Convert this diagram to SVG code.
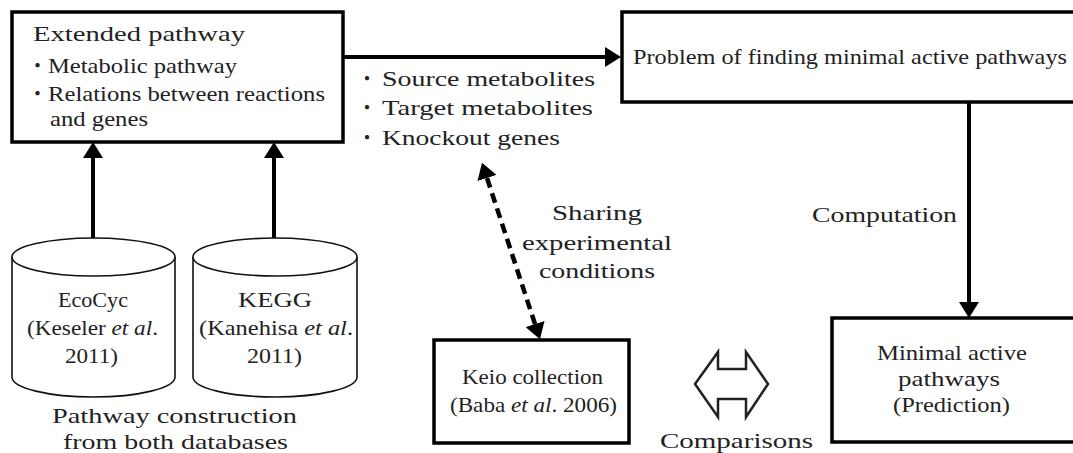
<svg xmlns="http://www.w3.org/2000/svg" width="1073" height="453" viewBox="0 0 1073 453">
<style>
.box{fill:#fff;stroke:#000;stroke-width:3.5}
.cyl{fill:#fff;stroke:#111;stroke-width:1.6}
.t{font-family:"Liberation Serif","Noto Sans CJK JP",serif;font-size:21px;fill:#222}
.b{font-family:"Noto Sans CJK JP",sans-serif;font-size:20px;fill:#222}
.c{text-anchor:middle}
.ln{stroke:#000;stroke-width:4;fill:none}
.dash{stroke:#000;stroke-width:4.5;fill:none;stroke-dasharray:10 6}
</style>
<defs>
<marker id="ah" viewBox="0 0 16 20" refX="0" refY="10" markerWidth="16" markerHeight="20" markerUnits="userSpaceOnUse" orient="auto-start-reverse">
<path d="M0,0 L16,10 L0,20 z" fill="#000"/>
</marker>
</defs>
<rect width="1073" height="453" fill="#fff"/>

<g id="connectors">
<line class="ln" x1="343" y1="57" x2="605" y2="57" marker-end="url(#ah)"/>
<line class="ln" x1="969" y1="102" x2="969" y2="302" marker-end="url(#ah)"/>
<line class="ln" x1="93" y1="253" x2="93" y2="158" marker-end="url(#ah)"/>
<line class="ln" x1="274" y1="253" x2="274" y2="158" marker-end="url(#ah)"/>
<line class="dash" x1="487" y1="178" x2="535" y2="324" marker-start="url(#ah)" marker-end="url(#ah)"/>
<polygon points="695,384 718,352 718,369 746,369 746,352 768,384 746,417 746,399 718,399 718,417" fill="#fff" stroke="#222" stroke-width="2.5" stroke-linejoin="miter"/>
</g>

<g id="extended">
<rect class="box" x="12" y="12" width="331" height="130"/>
<text class="t" x="33" y="41" textLength="212" lengthAdjust="spacingAndGlyphs">Extended pathway</text>
<text class="b" x="27.5" y="73">・</text>
<text class="t" x="48" y="73" textLength="189" lengthAdjust="spacingAndGlyphs">Metabolic pathway</text>
<text class="b" x="27.5" y="101">・</text>
<text class="t" x="48" y="101" textLength="277" lengthAdjust="spacingAndGlyphs">Relations between reactions</text>
<text class="t" x="50" y="126" textLength="98" lengthAdjust="spacingAndGlyphs">and genes</text>
</g>

<g id="conditions">
<text class="b" x="357" y="86">・</text>
<text class="t" x="382" y="86" textLength="213" lengthAdjust="spacingAndGlyphs">Source metabolites</text>
<text class="b" x="357" y="115">・</text>
<text class="t" x="382" y="115" textLength="211" lengthAdjust="spacingAndGlyphs">Target metabolites</text>
<text class="b" x="357" y="145">・</text>
<text class="t" x="382" y="145" textLength="178" lengthAdjust="spacingAndGlyphs">Knockout genes</text>
</g>

<g id="problem">
<rect class="box" x="622" y="12" width="470" height="90"/>
<text class="t" x="633" y="64" textLength="434" lengthAdjust="spacingAndGlyphs">Problem of finding minimal active pathways</text>
</g>

<g id="computation-label">
<text class="t" x="812" y="222" textLength="145" lengthAdjust="spacingAndGlyphs">Computation</text>
</g>

<g id="minimal">
<rect class="box" x="832" y="318" width="260" height="124"/>
<text class="t c" x="952" y="360" textLength="150" lengthAdjust="spacingAndGlyphs">Minimal active</text>
<text class="t c" x="949" y="386" textLength="102" lengthAdjust="spacingAndGlyphs">pathways</text>
<text class="t c" x="951.5" y="412" textLength="117" lengthAdjust="spacingAndGlyphs">(Prediction)</text>
</g>

<g id="ecocyc">
<path class="cyl" d="M12,257 L12,377 A81.5,20 0 0 0 175,377 L175,257"/>
<ellipse class="cyl" cx="93.5" cy="257" rx="81.5" ry="19"/>
<text class="t c" x="93" y="307" textLength="70" lengthAdjust="spacingAndGlyphs">EcoCyc</text>
<text class="t c" x="92.5" y="335" textLength="131" lengthAdjust="spacingAndGlyphs">(Keseler <tspan font-style="italic">et al</tspan>.</text>
<text class="t c" x="91.5" y="363" textLength="53" lengthAdjust="spacingAndGlyphs">2011)</text>
</g>

<g id="kegg">
<path class="cyl" d="M193,257 L193,377 A82,20 0 0 0 357,377 L357,257"/>
<ellipse class="cyl" cx="275" cy="257" rx="82" ry="19"/>
<text class="t c" x="275" y="307" textLength="74" lengthAdjust="spacingAndGlyphs">KEGG</text>
<text class="t c" x="276" y="335" textLength="154" lengthAdjust="spacingAndGlyphs">(Kanehisa <tspan font-style="italic">et al</tspan>.</text>
<text class="t c" x="274.5" y="363" textLength="55" lengthAdjust="spacingAndGlyphs">2011)</text>
</g>

<g id="construction-label">
<text class="t c" x="174.5" y="423" textLength="245" lengthAdjust="spacingAndGlyphs">Pathway construction</text>
<text class="t c" x="175.5" y="449" textLength="225" lengthAdjust="spacingAndGlyphs">from both databases</text>
</g>

<g id="sharing-label">
<text class="t c" x="597" y="220" textLength="90" lengthAdjust="spacingAndGlyphs">Sharing</text>
<text class="t c" x="597" y="250" textLength="150" lengthAdjust="spacingAndGlyphs">experimental</text>
<text class="t c" x="597" y="278" textLength="116" lengthAdjust="spacingAndGlyphs">conditions</text>
</g>

<g id="keio">
<rect class="box" x="434" y="340" width="195" height="103"/>
<text class="t c" x="532.5" y="384" textLength="141" lengthAdjust="spacingAndGlyphs">Keio collection</text>
<text class="t c" x="533.5" y="412" textLength="167" lengthAdjust="spacingAndGlyphs">(Baba <tspan font-style="italic">et al</tspan>. 2006)</text>
</g>

<g id="comparisons-label">
<text class="t c" x="736.5" y="448" textLength="153" lengthAdjust="spacingAndGlyphs">Comparisons</text>
</g>
</svg>
